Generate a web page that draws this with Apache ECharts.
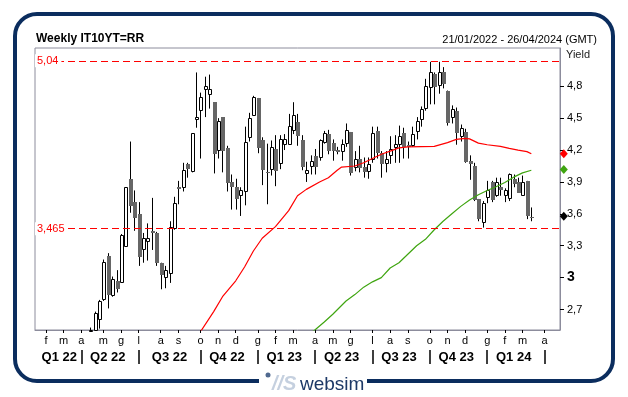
<!DOCTYPE html>
<html>
<head>
<meta charset="utf-8">
<script src="https://cdn.jsdelivr.net/npm/echarts@6/dist/echarts.min.js"></script>
<style>
  html, body { margin: 0; padding: 0; background: #fff; }
  #chart { width: 628px; height: 397px; }
</style>
</head>
<body>
<div id="chart"></div>
<script>
// weekly candles, first week 21/01/2022, one per friday
var firstWeek = Date.UTC(2022, 0, 21)
var weekCount = 119

var opens = [1.30, 1.33, 1.40, 1.72, 1.94, 1.86, 1.83, 1.55, 1.89, 1.92, 2.05, 2.04,
  2.33, 2.46, 2.61, 2.80, 3.20, 2.84, 2.97, 2.96, 3.30, 3.93, 3.71, 3.60, 3.27, 3.34, 3.44, 3.42, 3.14, 3.01, 3.04, 3.47, 3.85, 3.85,
  4.07, 4.00, 4.49, 4.58, 4.77, 4.73, 4.65, 4.20, 4.51, 4.22, 3.90, 3.85, 3.78, 3.81, 4.32, 4.53, 4.69, 4.29, 3.99, 4.02, 4.21,
  4.08, 4.26, 4.26, 4.39, 4.46, 4.29, 3.98, 4.05, 4.14, 4.13, 4.28, 4.35, 4.27, 4.20, 4.19, 4.27, 4.37, 4.04, 4.12, 4.04, 4.00, 4.12,
  4.38, 4.17, 4.08, 4.15, 4.23, 4.26, 4.36, 4.25, 4.25, 4.38, 4.49, 4.60, 4.79, 4.92, 4.81, 4.93, 4.76, 4.51, 4.57, 4.33, 4.37,
  4.10, 4.05, 3.74, 3.52, 3.76, 3.90, 3.78, 3.85, 3.78, 3.75, 3.93, 3.90, 3.78, 3.91, 3.57]
var highs = [1.38, 1.45, 1.76, 1.96, 1.98, 1.92, 1.85, 1.93, 2.02, 2.10, 2.08, 2.37,
  2.53, 2.68, 2.79, 3.17, 3.23, 3.01, 3.07, 3.41, 3.85, 4.28, 3.82, 3.71, 3.42, 3.51, 3.75, 3.43, 3.14, 3.11, 3.53, 3.76, 3.91, 4.08,
  4.08, 4.36, 4.93, 4.74, 4.89, 4.91, 4.65, 4.50, 4.51, 4.24, 3.97, 3.93, 3.85, 4.42, 4.55, 4.71, 4.69, 4.32, 4.26, 4.29, 4.34,
  4.34, 4.35, 4.54, 4.65, 4.54, 4.34, 4.09, 4.15, 4.21, 4.30, 4.38, 4.39, 4.30, 4.23, 4.30, 4.45, 4.37, 4.19, 4.24, 4.13, 4.13, 4.42,
  4.42, 4.19, 4.19, 4.33, 4.34, 4.43, 4.41, 4.28, 4.42, 4.51, 4.61, 4.87, 5.03, 4.93, 5.03, 4.98, 4.76, 4.62, 4.60, 4.44, 4.40,
  4.15, 4.08, 3.74, 3.72, 3.91, 3.91, 3.94, 3.94, 3.84, 3.98, 3.97, 3.94, 3.96, 3.91, 3.66]
var lows = [1.27, 1.30, 1.38, 1.70, 1.80, 1.70, 1.50, 1.53, 1.83, 1.90, 1.93, 2.02,
  2.30, 2.42, 2.52, 2.78, 2.71, 2.82, 2.86, 2.95, 3.29, 3.61, 3.44, 3.11, 3.14, 3.16, 3.26, 3.11, 2.89, 2.90, 2.95, 3.45, 3.69, 3.81,
  3.94, 3.99, 4.41, 4.12, 4.51, 4.59, 3.98, 4.12, 3.99, 3.81, 3.64, 3.64, 3.58, 3.68, 4.28, 4.52, 4.17, 3.87, 3.69, 3.96, 3.86,
  4.02, 4.20, 4.26, 4.35, 4.24, 4.01, 3.90, 3.97, 3.97, 4.10, 4.26, 4.16, 4.10, 4.16, 4.10, 4.23, 3.96, 4.00, 3.99, 3.94, 3.93, 4.08,
  4.12, 3.94, 3.99, 4.07, 4.08, 4.08, 4.12, 4.12, 4.23, 4.30, 4.42, 4.57, 4.63, 4.63, 4.73, 4.78, 4.43, 4.45, 4.25, 4.28, 4.08,
  3.92, 3.72, 3.53, 3.47, 3.70, 3.71, 3.76, 3.77, 3.71, 3.72, 3.85, 3.80, 3.77, 3.55, 3.53]
var closes = [1.33, 1.40, 1.72, 1.94, 1.86, 1.83, 1.55, 1.89, 1.92, 2.05, 2.04, 2.33,
  2.46, 2.67, 2.78, 3.15, 2.84, 2.99, 2.89, 3.40, 3.85, 3.67, 3.56, 3.19, 3.37, 3.37, 3.42, 3.14, 3.02, 3.07, 3.48, 3.70, 3.83, 4.01,
  4.02, 4.36, 4.51, 4.70, 4.80, 4.77, 4.16, 4.47, 4.19, 3.89, 3.85, 3.74, 3.82, 4.28, 4.50, 4.70, 4.22, 4.01, 3.98, 4.23, 4.00,
  4.30, 4.30, 4.43, 4.53, 4.33, 4.04, 4.01, 4.10, 4.04, 4.29, 4.36, 4.19, 4.19, 4.18, 4.26, 4.39, 3.98, 4.12, 4.03, 3.99, 4.07, 4.36,
  4.17, 4.07, 4.12, 4.21, 4.26, 4.33, 4.23, 4.23, 4.35, 4.47, 4.59, 4.80, 4.93, 4.79, 4.93, 4.82, 4.45, 4.59, 4.36, 4.41, 4.09,
  4.07, 3.73, 3.55, 3.70, 3.82, 3.73, 3.90, 3.82, 3.82, 3.97, 3.88, 3.80, 3.90, 3.58, 3.565]

// moving averages: [week index, value]
var maRed = [[35, 2.38], [37, 2.49], [40, 2.68], [42, 2.82], [45, 2.97], [47, 3.10], [49, 3.25], [51, 3.37],
  [54, 3.48], [57, 3.63], [59, 3.77], [61, 3.83], [64, 3.90], [66, 3.94], [68, 4.01], [69, 4.04], [72, 4.05],
  [74, 4.08], [76, 4.12], [78, 4.16], [80, 4.19], [82, 4.22], [84, 4.23], [90, 4.235], [93, 4.27], [95, 4.30],
  [97, 4.31], [98, 4.305], [100, 4.265], [102, 4.25], [105, 4.235], [107, 4.216], [109, 4.20], [111, 4.185], [112, 4.165]]
var maGreen = [[61, 2.45], [63, 2.51], [65, 2.58], [67, 2.655], [70, 2.78], [72, 2.84], [74, 2.91], [76, 2.96],
  [78, 3.00], [80, 3.09], [82, 3.14], [84, 3.22], [86, 3.30], [88, 3.36], [90, 3.45], [92, 3.53], [94, 3.60],
  [96, 3.67], [98, 3.73], [100, 3.78], [102, 3.82], [104, 3.855], [106, 3.895], [108, 3.945], [110, 3.985], [112, 4.01]]

var levels = [5.04, 3.465]
var levelNames = ['5,04', '3,465']
var lastRed = 4.166
var lastGreen = 4.018
var lastClose = 3.577
var yTicks = [2.7, 3, 3.3, 3.6, 3.9, 4.2, 4.5, 4.8]
var monthLetters = ['g', 'f', 'm', 'a', 'm', 'g', 'l', 'a', 's', 'o', 'n', 'd']

var weeks = []
var months = []
var years = []
for (var i = 0; i < weekCount; i++) {
  var d = new Date(firstWeek + i * 7 * 86400000)
  weeks.push(d.toISOString().slice(0, 10))
  months.push(d.getUTCMonth())
  years.push(d.getUTCFullYear())
}

function monthStart (i) {
  return i > 0 && months[i] !== months[i - 1]
}
function quarterStart (i) {
  return monthStart(i) && months[i] % 3 === 0
}

// one label in the middle of each quarter that has candles
var quarterMid = {}
var qFrom = 0
for (var j = 1; j <= weekCount; j++) {
  if (j === weekCount || quarterStart(j)) {
    if (qFrom < opens.length) {
      quarterMid[Math.round((qFrom + j - 1) / 2)] = 'Q' + (Math.floor(months[qFrom] / 3) + 1) + ' ' + String(years[qFrom]).slice(2)
    }
    qFrom = j
  }
}

var candles = []
for (var k = 0; k < opens.length; k++) {
  candles.push([k, opens[k], closes[k], lows[k], highs[k]])
}

// hollow up candles, solid grey down candles, black wick, cut at the plot edges
function renderCandle (params, api) {
  var cs = params.coordSys
  var top = cs.y
  var bottom = cs.y + cs.height
  var idx = api.value(0)
  var o = api.value(1)
  var c = api.value(2)
  var x = Math.round(api.coord([idx, o])[0])
  var yH = api.coord([idx, api.value(4)])[1]
  var yL = api.coord([idx, api.value(3)])[1]
  if (yH >= bottom) return
  var clampY = function (y) { return Math.max(top, Math.min(bottom, y)) }
  var bTop = Math.round(clampY(api.coord([idx, Math.max(o, c)])[1]))
  var bBot = Math.round(clampY(api.coord([idx, Math.min(o, c)])[1]))
  var kids = [{
    type: 'line',
    shape: { x1: x + 0.5, y1: clampY(yH), x2: x + 0.5, y2: clampY(yL) },
    style: { stroke: '#000', lineWidth: 1 }
  }]
  if (c >= o) {
    kids.push({
      type: 'rect',
      shape: { x: x - 0.5, y: bTop + 0.5, width: 3, height: Math.max(bBot - bTop, 1) },
      style: { fill: '#fff', stroke: '#000', lineWidth: 1 }
    })
  } else {
    kids.push({
      type: 'rect',
      shape: { x: x - 1, y: bTop, width: 4, height: Math.max(bBot - bTop, 1) },
      style: { fill: '#666' }
    })
  }
  return { type: 'group', children: kids }
}

var font = 'Liberation Sans, Arial, sans-serif'
var chart = echarts.init(document.getElementById('chart'))

chart.setOption({
  animation: false,
  backgroundColor: '#fff',
  textStyle: { fontFamily: font },
  title: [
    { text: 'Weekly IT10YT=RR', left: 36, top: 33, padding: 0, textStyle: { fontSize: 12, fontWeight: 'bold', color: '#000', fontFamily: font } },
    { text: '21/01/2022 - 26/04/2024 (GMT)', right: 31, top: 34, padding: 0, textStyle: { fontSize: 11, fontWeight: 'normal', color: '#000', fontFamily: font } },
    { text: 'Yield', left: 566, top: 49, padding: 0, textStyle: { fontSize: 11, fontWeight: 'normal', color: '#222', fontFamily: font } }
  ],
  grid: { left: 35, right: 68, top: 48, bottom: 67, show: true, borderColor: '#8c8c9c', borderWidth: 1, backgroundColor: '#fff' },
  xAxis: [
    {
      type: 'category',
      data: weeks,
      axisLine: { lineStyle: { color: '#8c8c9c' } },
      axisTick: { show: true, alignWithLabel: true, interval: function (i) { return monthStart(i) }, length: 3, lineStyle: { color: '#000' } },
      axisLabel: {
        interval: function (i) { return monthStart(i) },
        formatter: function (v, i) { return monthLetters[months[i]] },
        fontSize: 11, color: '#000', margin: 5
      },
      splitLine: { show: false }
    },
    {
      type: 'category',
      data: weeks,
      position: 'bottom',
      offset: 20,
      axisLine: { show: true, lineStyle: { color: 'rgba(0,0,0,0)' } },
      axisTick: { show: true, alignWithLabel: true, interval: function (i) { return quarterStart(i) }, length: 14, lineStyle: { color: '#000', width: 1.5 } },
      axisLabel: {
        interval: function (i) { return quarterMid[i] !== undefined },
        formatter: function (v, i) { return quarterMid[i] || '' },
        fontSize: 13, fontWeight: 'bold', color: '#000', margin: 1
      },
      splitLine: { show: false }
    }
  ],
  yAxis: {
    type: 'value',
    position: 'right',
    min: 2.507,
    max: 5.16,
    axisLine: { show: true, lineStyle: { color: '#8c8c9c' } },
    axisTick: { show: true, customValues: yTicks, length: 4, lineStyle: { color: '#000' } },
    axisLabel: {
      customValues: yTicks,
      margin: 7,
      fontSize: 11,
      color: '#000',
      formatter: function (v) {
        var s = String(Math.round(v * 10) / 10).replace('.', ',')
        return Number.isInteger(v) ? '{b|' + s + '}' : s
      },
      rich: { b: { fontSize: 14, fontWeight: 'bold', color: '#000' } }
    },
    splitLine: { show: false }
  },
  series: [
    {
      type: 'custom',
      data: candles,
      encode: { x: 0, y: [1, 2, 3, 4] },
      renderItem: renderCandle
    },
    {
      type: 'line',
      data: maRed,
      symbol: 'none',
      clip: true,
      lineStyle: { color: '#ff0000', width: 1.2 },
      markLine: {
        silent: true,
        symbol: 'none',
        lineStyle: { color: '#ff0000', type: [7, 4], width: 1.2 },
        label: {
          position: 'insideStartTop',
          distance: [0, 0],
          verticalAlign: 'middle',
          color: '#ff0000',
          fontSize: 11,
          backgroundColor: '#fff',
          padding: [1, 3, 1, 2],
          formatter: '{b}'
        },
        data: levels.map(function (v, n) { return { yAxis: v, name: levelNames[n] } })
      },
      markPoint: {
        symbol: 'diamond',
        symbolSize: [8, 9],
        symbolOffset: [6, 0],
        label: { show: false },
        data: [
          { coord: [weekCount - 1, lastRed], itemStyle: { color: '#ff0000' } },
          { coord: [weekCount - 1, lastGreen], itemStyle: { color: '#3fa510' } },
          { coord: [weekCount - 1, lastClose], itemStyle: { color: '#000' } }
        ]
      }
    },
    {
      type: 'line',
      data: maGreen,
      symbol: 'none',
      clip: true,
      lineStyle: { color: '#3fa510', width: 1.2 }
    }
  ],
  graphic: [
    { type: 'rect', z: 10, silent: true, shape: { x: 15, y: 14, width: 598, height: 367, r: 22 }, style: { fill: 'none', stroke: '#0b2d5e', lineWidth: 4 } },
    { type: 'rect', z: 11, silent: true, shape: { x: 259, y: 376, width: 108, height: 12 }, style: { fill: '#fff' } },
    { type: 'circle', z: 12, silent: true, shape: { cx: 268, cy: 375, r: 2.5 }, style: { fill: '#50698f' } },
    { type: 'text', z: 12, silent: true, x: 272, y: 384, style: { text: '//S', font: 'italic bold 20px Liberation Sans', fill: '#c5d0df', verticalAlign: 'middle' } },
    { type: 'text', z: 12, silent: true, x: 300, y: 385, style: { text: 'websim', font: '19px Liberation Sans', fill: '#1c3866', verticalAlign: 'middle' } }
  ]
})
</script>
</body>
</html>
